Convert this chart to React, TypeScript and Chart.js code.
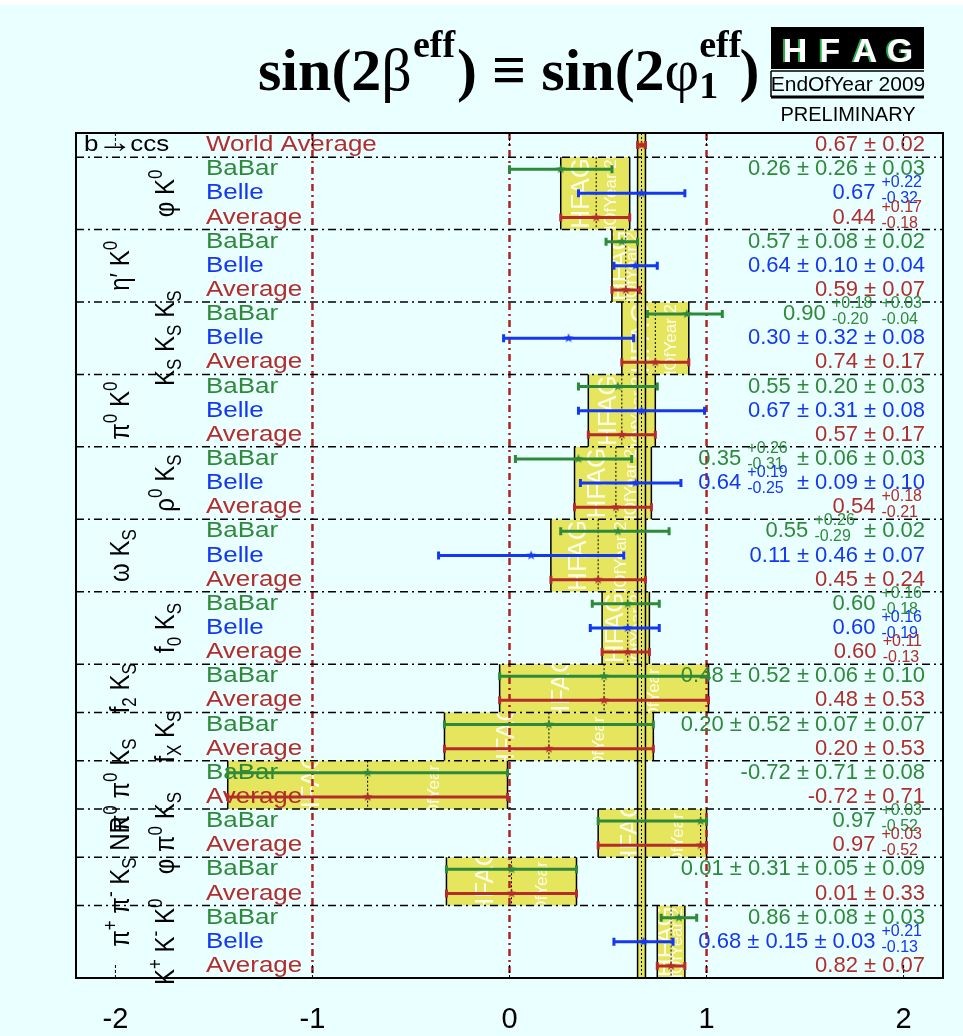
import { useEffect, useRef } from "react";
import { Chart, registerables } from "chart.js";

Chart.register(...registerables);

// ---- data -------------------------------------------------------------
const rowLabels: string[] = [
  "World Average",
  "BaBar", "Belle", "Average",
  "BaBar", "Belle", "Average",
  "BaBar", "Belle", "Average",
  "BaBar", "Belle", "Average",
  "BaBar", "Belle", "Average",
  "BaBar", "Belle", "Average",
  "BaBar", "Belle", "Average",
  "BaBar", "Average",
  "BaBar", "Average",
  "BaBar", "Average",
  "BaBar", "Average",
  "BaBar", "Average",
  "BaBar", "Belle", "Average",
];

const centralValues: number[] = [
  0.67,
  0.26, 0.67, 0.44,
  0.57, 0.64, 0.59,
  0.90, 0.30, 0.74,
  0.55, 0.67, 0.57,
  0.35, 0.64, 0.54,
  0.55, 0.11, 0.45,
  0.60, 0.60, 0.60,
  0.48, 0.48,
  0.20, 0.20,
  -0.72, -0.72,
  0.97, 0.97,
  0.01, 0.01,
  0.86, 0.68, 0.82,
];

const errorsHigh: number[] = [
  0.02,
  0.26, 0.22, 0.17,
  0.08, 0.11, 0.07,
  0.18, 0.33, 0.17,
  0.20, 0.32, 0.17,
  0.27, 0.23, 0.18,
  0.26, 0.47, 0.24,
  0.16, 0.16, 0.11,
  0.53, 0.53,
  0.53, 0.53,
  0.71, 0.71,
  0.03, 0.03,
  0.33, 0.33,
  0.09, 0.15, 0.07,
];

const errorsLow: number[] = [
  0.02,
  0.26, 0.32, 0.18,
  0.08, 0.11, 0.07,
  0.20, 0.33, 0.17,
  0.20, 0.32, 0.17,
  0.32, 0.28, 0.21,
  0.29, 0.47, 0.24,
  0.18, 0.19, 0.13,
  0.53, 0.53,
  0.53, 0.53,
  0.71, 0.71,
  0.52, 0.52,
  0.33, 0.33,
  0.09, 0.15, 0.07,
];

const valueLabels: string[] = [
  "0.67 ± 0.02",
  "0.26 ± 0.26 ± 0.03", "0.67 ^{+0.22}_{-0.32}", "0.44 ^{+0.17}_{-0.18}",
  "0.57 ± 0.08 ± 0.02", "0.64 ± 0.10 ± 0.04", "0.59 ± 0.07",
  "0.90 ^{+0.18}_{-0.20} ^{+0.03}_{-0.04}", "0.30 ± 0.32 ± 0.08", "0.74 ± 0.17",
  "0.55 ± 0.20 ± 0.03", "0.67 ± 0.31 ± 0.08", "0.57 ± 0.17",
  "0.35 ^{+0.26}_{-0.31} ± 0.06 ± 0.03", "0.64 ^{+0.19}_{-0.25} ± 0.09 ± 0.10", "0.54 ^{+0.18}_{-0.21}",
  "0.55 ^{+0.26}_{-0.29} ± 0.02", "0.11 ± 0.46 ± 0.07", "0.45 ± 0.24",
  "0.60 ^{+0.16}_{-0.18}", "0.60 ^{+0.16}_{-0.19}", "0.60 ^{+0.11}_{-0.13}",
  "0.48 ± 0.52 ± 0.06 ± 0.10", "0.48 ± 0.53",
  "0.20 ± 0.52 ± 0.07 ± 0.07", "0.20 ± 0.53",
  "-0.72 ± 0.71 ± 0.08", "-0.72 ± 0.71",
  "0.97 ^{+0.03}_{-0.52}", "0.97 ^{+0.03}_{-0.52}",
  "0.01 ± 0.31 ± 0.05 ± 0.09", "0.01 ± 0.33",
  "0.86 ± 0.08 ± 0.03", "0.68 ± 0.15 ± 0.03 ^{+0.21}_{-0.13}", "0.82 ± 0.07",
];

const modeNames: string[] = [
  "φ K^{0}", "η′ K^{0}", "K_{S} K_{S} K_{S}", "π^{0} K^{0}", "ρ^{0} K_{S}",
  "ω K_{S}", "f_{0} K_{S}", "f_{2} K_{S}", "f_{X} K_{S}", "π^{0} π^{0} K_{S}",
  "φ π^{0} K_{S}", "π^{+} π^{-} K_{S} NR", "K^{+} K^{-} K^{0}",
];
const modeRowCounts: number[] = [3, 3, 3, 3, 3, 3, 3, 2, 2, 2, 2, 2, 3];

const xTicks: number[] = [-2, -1, 0, 1, 2];
const referenceLines: number[] = [-1, 0, 1];

const processParts = ["b", "→", "ccs"];
const titleSegments: { text: string; bold: boolean }[][] = [
  [{ text: "sin(2", bold: true }, { text: "β", bold: false }],
  [{ text: ") ≡ sin(2", bold: true }, { text: "φ", bold: false }],
];
const titleSup = "eff";
const titleSub = "1";
const titleEnd = ")";
const logoTexts = { main: "HFAG", edition: "EndOfYear 2009", status: "PRELIMINARY" };

// ---- styles -----------------------------------------------------------
const BG = "#eaffff";
const YELLOW = "#e6e65e";
const SANS = "'Liberation Sans', Arial, Helvetica, sans-serif";
const SERIF = "'Liberation Serif', 'Times New Roman', serif";
const LABEL_STRETCH = 1.18;
const COLORS: Record<string, string> = {
  BaBar: "#2e8a3a",
  Belle: "#1438f0",
  Average: "#b32d2d",
};
const colorOf = (label: string) => COLORS[label] ?? COLORS.Average;

// ---- rich text (super/subscripts) -----------------------------------
type Piece = { kind: "n" | "sup" | "sub" | "pair"; text: string; sub?: string };

function parseRich(s: string): Piece[] {
  const out: Piece[] = [];
  const re = /\^\{([^}]*)\}(?:_\{([^}]*)\})?|_\{([^}]*)\}|[^^_]+/g;
  let m: RegExpExecArray | null;
  while ((m = re.exec(s))) {
    if (m[0][0] === "^") {
      if (m[2] !== undefined) out.push({ kind: "pair", text: m[1], sub: m[2] });
      else out.push({ kind: "sup", text: m[1] });
    } else if (m[0][0] === "_") {
      out.push({ kind: "sub", text: m[3] });
    } else {
      out.push({ kind: "n", text: m[0] });
    }
  }
  return out;
}

type RichStyle = { size: number; script: number; rise: number; drop: number; pairRise: number; pairDrop: number };

function richWidth(ctx: CanvasRenderingContext2D, pieces: Piece[], st: RichStyle) {
  let w = 0;
  for (const p of pieces) {
    if (p.kind === "n") {
      ctx.font = `${st.size}px ${SANS}`;
      w += ctx.measureText(p.text).width;
    } else {
      ctx.font = `${st.script}px ${SANS}`;
      w += p.kind === "pair"
        ? Math.max(ctx.measureText(p.text).width, ctx.measureText(p.sub || "").width) + 3
        : ctx.measureText(p.text).width;
    }
  }
  return w;
}

function drawRich(ctx: CanvasRenderingContext2D, pieces: Piece[], x0: number, y0: number, st: RichStyle) {
  let x = x0;
  ctx.textAlign = "left";
  ctx.textBaseline = "alphabetic";
  for (const p of pieces) {
    if (p.kind === "n") {
      ctx.font = `${st.size}px ${SANS}`;
      ctx.fillText(p.text, x, y0);
      x += ctx.measureText(p.text).width;
    } else if (p.kind === "pair") {
      ctx.font = `${st.script}px ${SANS}`;
      ctx.fillText(p.text, x, y0 - st.pairRise);
      ctx.fillText(p.sub || "", x, y0 + st.pairDrop);
      x += Math.max(ctx.measureText(p.text).width, ctx.measureText(p.sub || "").width) + 3;
    } else {
      ctx.font = `${st.script}px ${SANS}`;
      ctx.fillText(p.text, x, y0 + (p.kind === "sup" ? -st.rise : st.drop));
      x += ctx.measureText(p.text).width;
    }
  }
}

const valueStyle: RichStyle = { size: 22, script: 16, rise: 10, drop: 4, pairRise: 12, pairDrop: 4 };
const modeStyle: RichStyle = { size: 24, script: 17, rise: 10, drop: 6, pairRise: 10, pairDrop: 6 };

function starImage(color: string, r: number) {
  const c = document.createElement("canvas");
  c.width = c.height = 2 * r + 2;
  const g = c.getContext("2d")!;
  g.translate(r + 1, r + 1);
  g.beginPath();
  for (let k = 0; k < 10; k++) {
    const rad = k % 2 === 0 ? r : r * 0.42;
    const ang = -Math.PI / 2 + (k * Math.PI) / 5;
    g.lineTo(rad * Math.cos(ang), rad * Math.sin(ang));
  }
  g.closePath();
  g.fillStyle = color;
  g.fill();
  return c;
}

// group start rows (row 0 is the world average)
function groupStarts() {
  const starts: number[] = [];
  let r = 1;
  for (const n of modeRowCounts) {
    starts.push(r);
    r += n;
  }
  return starts;
}

const layoutPlugin = {
  id: "sin2betaLayout",
  beforeDraw(chart: any) {
    const { ctx, chartArea: a, scales } = chart;
    const x = scales.x;
    const y = scales.y;
    const starts = groupStarts();
    ctx.save();
    ctx.fillStyle = BG;
    ctx.fillRect(0, 0, chart.width, chart.height);
    ctx.fillStyle = "#ffffff";
    ctx.fillRect(0, 0, chart.width, 5);

    // average boxes per mode
    starts.forEach((s, gi) => {
      const n = modeRowCounts[gi];
      const ai = s + n - 1;
      const lo = centralValues[ai] - errorsLow[ai];
      const hi = centralValues[ai] + errorsHigh[ai];
      const x0 = x.getPixelForValue(lo);
      const x1 = x.getPixelForValue(hi);
      const y0 = y.getPixelForValue(s);
      const y1 = y.getPixelForValue(s + n);
      const w = x1 - x0;
      const h = y1 - y0;
      ctx.fillStyle = YELLOW;
      ctx.fillRect(x0, y0, w, h);

      // faint logo watermark inside the box
      ctx.save();
      ctx.beginPath();
      ctx.rect(x0, y0, w, h);
      ctx.clip();
      ctx.fillStyle = "rgba(255,255,255,0.85)";
      ctx.textAlign = "center";
      ctx.textBaseline = "middle";
      ctx.save();
      ctx.translate(x0 + 0.3 * w, y0 + h / 2);
      ctx.rotate(-Math.PI / 2);
      ctx.font = `26px ${SANS}`;
      ctx.fillText(logoTexts.main, 0, 0);
      ctx.restore();
      ctx.save();
      ctx.translate(x0 + 0.74 * w, y0 + h / 2);
      ctx.rotate(-Math.PI / 2);
      ctx.font = `17px ${SANS}`;
      ctx.fillText(logoTexts.edition, 0, 0);
      ctx.restore();
      ctx.restore();

      ctx.strokeStyle = "#000";
      ctx.lineWidth = 1.5;
      ctx.setLineDash([]);
      ctx.beginPath();
      ctx.moveTo(x0, y0); ctx.lineTo(x0, y1);
      ctx.moveTo(x1, y0); ctx.lineTo(x1, y1);
      ctx.stroke();
      const xc = x.getPixelForValue(centralValues[ai]);
      ctx.lineWidth = 1;
      ctx.setLineDash([2, 2]);
      ctx.beginPath();
      ctx.moveTo(xc, y0); ctx.lineTo(xc, y1);
      ctx.stroke();
    });

    // world average band
    const wl = x.getPixelForValue(centralValues[0] - errorsLow[0]);
    const wh = x.getPixelForValue(centralValues[0] + errorsHigh[0]);
    const wc = x.getPixelForValue(centralValues[0]);
    ctx.fillStyle = YELLOW;
    ctx.fillRect(wl, a.top, wh - wl, a.bottom - a.top);
    ctx.strokeStyle = "#000";
    ctx.setLineDash([]);
    ctx.lineWidth = 1.5;
    ctx.beginPath();
    ctx.moveTo(wl, a.top); ctx.lineTo(wl, a.bottom);
    ctx.moveTo(wh, a.top); ctx.lineTo(wh, a.bottom);
    ctx.stroke();
    ctx.lineWidth = 1;
    ctx.setLineDash([2, 2]);
    ctx.beginPath();
    ctx.moveTo(wc, a.top); ctx.lineTo(wc, a.bottom);
    ctx.stroke();

    // reference lines at -1, 0, 1
    ctx.strokeStyle = "#b22222";
    ctx.lineWidth = 2.5;
    ctx.setLineDash([7, 4, 2, 4]);
    referenceLines.forEach((v) => {
      const px = x.getPixelForValue(v);
      ctx.beginPath();
      ctx.moveTo(px, a.top); ctx.lineTo(px, a.bottom);
      ctx.stroke();
    });

    // separators between modes
    ctx.strokeStyle = "#000";
    ctx.lineWidth = 1.5;
    ctx.setLineDash([8, 4, 2, 4]);
    starts.forEach((s) => {
      const py = y.getPixelForValue(s);
      ctx.beginPath();
      ctx.moveTo(a.left, py); ctx.lineTo(a.right, py);
      ctx.stroke();
    });
    ctx.setLineDash([]);

    // row labels and values
    rowLabels.forEach((lab, i) => {
      const py = y.getPixelForValue(i + 0.5) + 6;
      ctx.fillStyle = colorOf(lab);
      ctx.save();
      ctx.translate(a.left + 130, py);
      ctx.scale(LABEL_STRETCH, 1);
      ctx.font = `22px ${SANS}`;
      ctx.textAlign = "left";
      ctx.textBaseline = "alphabetic";
      ctx.fillText(lab, 0, 0);
      ctx.restore();
      const pieces = parseRich(valueLabels[i]);
      const w = richWidth(ctx, pieces, valueStyle);
      drawRich(ctx, pieces, a.right - 18 - w, py, valueStyle);
    });

    // top-left process label
    ctx.fillStyle = "#000";
    ctx.save();
    ctx.translate(a.left + 8, y.getPixelForValue(0.5) + 6);
    ctx.scale(LABEL_STRETCH, 1);
    ctx.textAlign = "left";
    let px = 0;
    processParts.forEach((t, k) => {
      ctx.font = k === 1 ? `30px ${SANS}` : `22px ${SANS}`;
      ctx.fillText(t, px, k === 1 ? 1 : 0);
      px += ctx.measureText(t).width + (k === 1 ? -2 : -1);
    });
    ctx.restore();

    // rotated decay-mode names
    starts.forEach((s, gi) => {
      const n = modeRowCounts[gi];
      const yc = y.getPixelForValue(s + n / 2);
      const bx = a.left + (gi % 2 === 0 ? 98 : 53);
      const pieces = parseRich(modeNames[gi]);
      const w = richWidth(ctx, pieces, modeStyle);
      ctx.save();
      ctx.translate(bx, yc);
      ctx.scale(LABEL_STRETCH, 1);
      ctx.rotate(-Math.PI / 2);
      ctx.fillStyle = "#000";
      drawRich(ctx, pieces, -w / 2, 0, modeStyle);
      ctx.restore();
    });
    ctx.restore();
  },
  beforeDatasetsDraw(chart: any) {
    const { ctx, scales } = chart;
    const x = scales.x;
    const y = scales.y;
    ctx.save();
    ctx.lineWidth = 3;
    ctx.setLineDash([]);
    rowLabels.forEach((lab, i) => {
      const py = y.getPixelForValue(i + 0.5);
      const x0 = x.getPixelForValue(centralValues[i] - errorsLow[i]);
      const x1 = x.getPixelForValue(centralValues[i] + errorsHigh[i]);
      ctx.strokeStyle = colorOf(lab);
      ctx.beginPath();
      ctx.moveTo(x0, py); ctx.lineTo(x1, py);
      ctx.moveTo(x0, py - 4); ctx.lineTo(x0, py + 4);
      ctx.moveTo(x1, py - 4); ctx.lineTo(x1, py + 4);
      ctx.stroke();
    });
    ctx.restore();
  },
  afterDraw(chart: any) {
    const { ctx, chartArea: a, scales } = chart;
    const x = scales.x;
    ctx.save();
    // frame
    ctx.strokeStyle = "#000";
    ctx.lineWidth = 2;
    ctx.setLineDash([]);
    ctx.strokeRect(a.left, a.top, a.right - a.left, a.bottom - a.top);
    // ticks
    ctx.lineWidth = 1;
    ctx.setLineDash([3, 2]);
    xTicks.forEach((v) => {
      const px = x.getPixelForValue(v);
      ctx.beginPath();
      ctx.moveTo(px, a.top); ctx.lineTo(px, a.top + 13);
      ctx.moveTo(px, a.bottom); ctx.lineTo(px, a.bottom - 13);
      ctx.stroke();
    });
    ctx.setLineDash([]);
    ctx.fillStyle = "#000";
    ctx.font = `29px ${SANS}`;
    ctx.textAlign = "center";
    ctx.textBaseline = "alphabetic";
    xTicks.forEach((v) => {
      ctx.fillText(String(v), x.getPixelForValue(v), a.bottom + 50);
    });

    // title
    let cx = 258;
    const by = 90;
    const size = 60;
    const ssize = 38;
    ctx.textAlign = "left";
    const run = (parts: { text: string; bold: boolean }[]) => {
      parts.forEach((p) => {
        ctx.font = `${p.bold ? "bold " : ""}${size}px ${SERIF}`;
        ctx.fillText(p.text, cx, by);
        cx += ctx.measureText(p.text).width;
      });
    };
    run(titleSegments[0]);
    ctx.font = `bold ${ssize}px ${SERIF}`;
    ctx.fillText(titleSup, cx + 1, by - 33);
    cx += ctx.measureText(titleSup).width + 3;
    run(titleSegments[1]);
    ctx.font = `bold ${ssize}px ${SERIF}`;
    const w1 = ctx.measureText(titleSup).width;
    ctx.fillText(titleSup, cx, by - 33);
    ctx.fillText(titleSub, cx, by + 8);
    cx += w1 - 2;
    ctx.font = `bold ${size}px ${SERIF}`;
    ctx.fillText(titleEnd, cx, by);

    // logo
    ctx.fillStyle = "#000";
    ctx.fillRect(771, 27, 153, 42);
    ctx.font = `bold 34px ${SANS}`;
    ctx.textAlign = "center";
    logoTexts.main.split("").forEach((ch, k) => {
      const lx = 795 + k * 35;
      ctx.fillStyle = "#22b14c";
      ctx.fillText(ch, lx - 2, 62);
      ctx.fillStyle = "#ffffff";
      ctx.fillText(ch, lx, 62);
    });
    ctx.strokeStyle = "#000";
    ctx.lineWidth = 1.5;
    ctx.beginPath();
    ctx.moveTo(771, 71); ctx.lineTo(924, 71);
    ctx.moveTo(771, 71); ctx.lineTo(771, 97);
    ctx.stroke();
    ctx.lineWidth = 3;
    ctx.beginPath();
    ctx.moveTo(771, 97); ctx.lineTo(924, 97);
    ctx.stroke();
    ctx.fillStyle = "#000";
    ctx.font = `21px ${SANS}`;
    ctx.fillText(logoTexts.edition, 848, 91);
    ctx.font = `20px ${SANS}`;
    ctx.fillText(logoTexts.status, 848, 121);
    ctx.restore();
  },
};

export default function App() {
  const ref = useRef<HTMLCanvasElement>(null);
  useEffect(() => {
    document.body.style.margin = "0";
    document.body.style.background = BG;
    const canvas = ref.current;
    if (!canvas) return;
    const sources = ["Average", "BaBar", "Belle"];
    const datasets = sources.map((src) => ({
      label: src,
      data: rowLabels
        .map((lab, i) => ({ lab, x: centralValues[i], y: i + 0.5 }))
        .filter((p) => (src === "Average" ? p.lab !== "BaBar" && p.lab !== "Belle" : p.lab === src))
        .map((p) => ({ x: p.x, y: p.y })),
      pointStyle: starImage(colorOf(src), 5) as any,
      showLine: false,
    }));
    const chart = new Chart(canvas, {
      type: "scatter",
      data: { datasets },
      options: {
        animation: false,
        responsive: false,
        devicePixelRatio: 1,
        layout: { padding: { left: 76, right: 20, top: 133, bottom: 58 } },
        plugins: { legend: { display: false }, tooltip: { enabled: false } },
        scales: {
          x: { type: "linear", min: -2.2, max: 2.2, display: false },
          y: { type: "linear", min: 0, max: rowLabels.length, reverse: true, display: false },
        },
      },
      plugins: [layoutPlugin],
    });
    return () => chart.destroy();
  }, []);
  return (
    <div style={{ width: 963, height: 1036, background: BG }}>
      <canvas ref={ref} width={963} height={1036} style={{ display: "block" }} />
    </div>
  );
}
